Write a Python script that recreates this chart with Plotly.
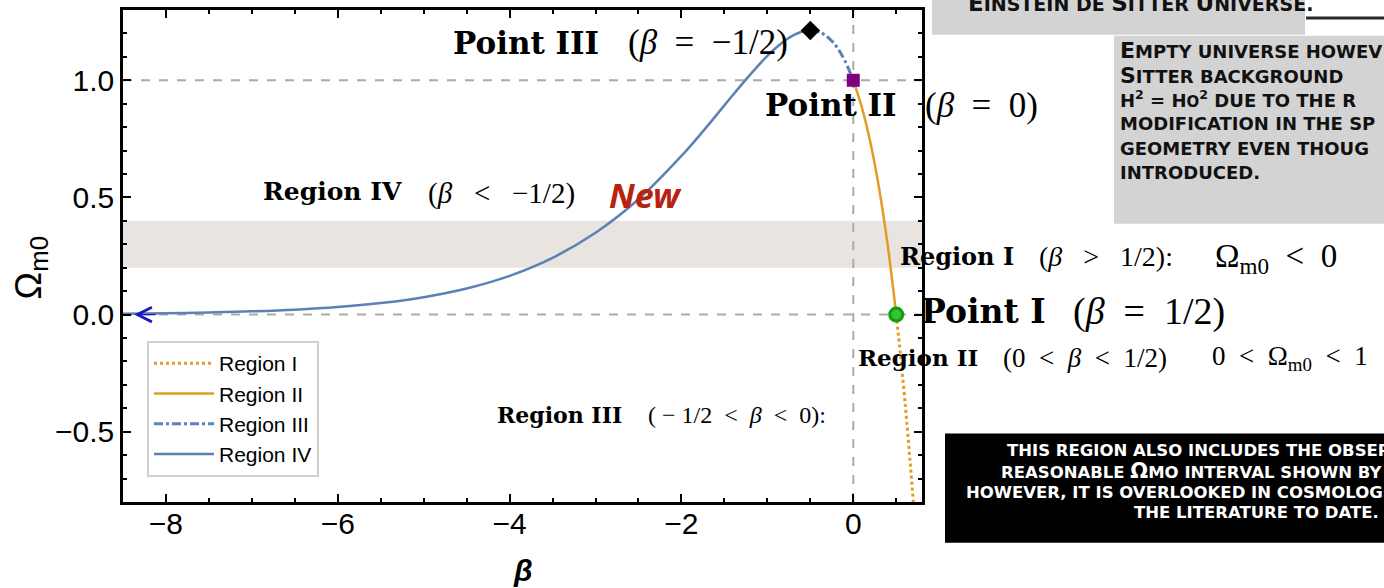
import plotly.graph_objects as go

# ---------------------------------------------------------------- data
beta_region_i = [0.5, 0.55, 0.6, 0.65, 0.7, 0.75]
omega_region_i = [0.0, -0.173, -0.364, -0.575, -0.806, -1.058]

beta_region_ii = [0.0, 0.1, 0.2, 0.3, 0.4, 0.5]
omega_region_ii = [1.0, 0.884, 0.733, 0.540, 0.298, 0.0]

beta_region_iii = [-0.5, -0.375, -0.25, -0.125, 0.0]
omega_region_iii = [1.213, 1.203, 1.168, 1.103, 1.0]

beta_region_iv = [-8.5, -8.0, -7.5, -7.0, -6.5, -6.0, -5.5, -5.0, -4.5, -4.0,
                  -3.5, -3.0, -2.5, -2.0, -1.75, -1.5, -1.25, -1.0, -0.875,
                  -0.75, -0.625, -0.5]
omega_region_iv = [0.004, 0.006, 0.009, 0.014, 0.021, 0.032, 0.049, 0.074,
                   0.111, 0.165, 0.242, 0.349, 0.492, 0.677, 0.782, 0.893,
                   1.003, 1.104, 1.146, 1.181, 1.204, 1.213]

point_names = ["Point I", "Point II", "Point III"]
point_beta = [0.5, 0.0, -0.5]
point_omega = [0.0, 1.0, 1.213]

band_omega = [0.2, 0.4]          # observationally preferred interval
ref_omega = [0.0, 1.0]           # dashed horizontal guides
ref_beta = [0.0]                 # dashed vertical guide
arrow_beta = [-8.37, -8.1]       # asymptote arrow (tip, tail)

x_ticks = [-8, -6, -4, -2, 0]
y_ticks = [-0.5, 0.0, 0.5, 1.0]

# ---------------------------------------------------------------- layout helpers
W, H = 1384, 588
ML, MR, MT, MB = 123, 462, 7, 86
PW, PH = W - ML - MR, H - MT - MB


def px(x):
    return (x - ML) / PW


def py(y):
    return (H - MB - y) / PH


BLUE = "#5E81B5"
ORANGE = "#E19C24"
SERIF_B = "DejaVu Serif"
SERIF = "Liberation Serif"
SANS = "Liberation Sans"
CAPS = "DejaVu Sans"

fig = go.Figure()

fig.add_trace(go.Scatter(x=beta_region_i, y=omega_region_i, mode="lines", name="Region I",
                         line=dict(color=ORANGE, width=3, dash="dot", shape="spline")))
fig.add_trace(go.Scatter(x=beta_region_ii, y=omega_region_ii, mode="lines", name="Region II",
                         line=dict(color=ORANGE, width=2.5, shape="spline")))
fig.add_trace(go.Scatter(x=beta_region_iii, y=omega_region_iii, mode="lines", name="Region III",
                         line=dict(color=BLUE, width=3, dash="dashdot", shape="spline")))
fig.add_trace(go.Scatter(x=beta_region_iv, y=omega_region_iv, mode="lines", name="Region IV",
                         line=dict(color=BLUE, width=2.5, shape="spline")))

fig.add_trace(go.Scatter(
    x=point_beta, y=point_omega, mode="markers", text=point_names, showlegend=False,
    marker=dict(symbol=["circle", "square", "diamond"],
                size=[13, 13, 15], opacity=1,
                color=["#3cbf3c", "#800080", "#000000"],
                line=dict(color=["#09a009", "#800080", "#000000"], width=[3, 0, 0])),
))

# shaded band and dashed guide lines
shapes = [
    dict(type="rect", xref="paper", x0=0, x1=1, yref="y", y0=band_omega[0], y1=band_omega[1],
         fillcolor="#e9e4df", line=dict(width=0), layer="below"),
]
for v in ref_omega:
    shapes.append(dict(type="line", xref="paper", x0=0, x1=1, yref="y", y0=v, y1=v,
                       line=dict(color="#ababab", width=2, dash="dash"), layer="below"))
for v in ref_beta:
    shapes.append(dict(type="line", xref="x", x0=v, x1=v, yref="paper", y0=0, y1=1,
                       line=dict(color="#ababab", width=2, dash="dash"), layer="below"))

# side panels
shapes += [
    dict(type="rect", xref="paper", yref="paper", x0=px(932), x1=px(1305), y0=py(32), y1=py(-5),
         fillcolor="#d3d3d3", line=dict(width=0)),
    dict(type="rect", xref="paper", yref="paper", x0=px(1114), x1=px(1400), y0=py(222), y1=py(33),
         fillcolor="#d3d3d3", line=dict(width=0)),
    dict(type="rect", xref="paper", yref="paper", x0=px(945), x1=px(1400), y0=py(543), y1=py(433),
         fillcolor="#000000", line=dict(width=0)),
    dict(type="line", xref="paper", yref="paper", x0=px(1306), x1=px(1384), y0=py(15), y1=py(15),
         line=dict(color="#2a2a2a", width=3)),
]


def caps(s, big, small):
    """Render text as small caps: capitals at `big`, lower case as capitals at `small`."""
    out, run, run_small = [], "", None
    for ch in s:
        is_small = ch.islower() or ch in " .,"
        if run_small is None or is_small == run_small:
            run += ch
        else:
            out.append((run, run_small))
            run = ch
        run_small = is_small
    if run:
        out.append((run, run_small))
    return "".join(
        '<span style="font-size:%dpx">%s</span>' % (small if sm else big, r.upper())
        for r, sm in out)


annotations = []


def label(text, x, y, family, size, color="#000000", anchor="left", **kw):
    annotations.append(dict(text=text, xref="paper", yref="paper", x=px(x), y=py(y),
                            xanchor=anchor, yanchor="middle", showarrow=False,
                            font=dict(family=family, size=size, color=color), **kw))


# curve annotations
label("<b>Point III</b>", 451, 40, SERIF_B, 31)
label("(<i>β</i>  =  −1/2)", 626, 40, SERIF, 35)
label("<b>Point II</b>", 763, 103, SERIF_B, 31)
label("(<i>β</i>  =  0)", 923, 103, SERIF, 35)
label("<b>Region IV</b>", 261, 190, SERIF_B, 25)
label("(<i>β</i>   &lt;   −1/2)", 426, 192, SERIF, 29)
label("<b>Region III</b>", 495, 414, SERIF_B, 22)
label("( − 1/2  &lt;  <i>β</i>  &lt;  0):", 646, 414, SERIF, 24)
label("<b>Region I</b>", 898, 255, SERIF_B, 24)
label("(<i>β</i>   &gt;   1/2):", 1037, 255, SERIF, 28)
label("Ω<sub>m0</sub>  &lt;  0", 1213, 257, SERIF, 33)
label("<b>Point I</b>", 919, 310, SERIF_B, 33)
label("(<i>β</i>  =  1/2)", 1071, 310, SERIF, 38)
label("<b>Region II</b>", 856, 357, SERIF_B, 23)
label("(0  &lt;  <i>β</i>  &lt;  1/2)", 1001, 357, SERIF, 27)
label("0  &lt;  Ω<sub>m0</sub>  &lt;  1", 1210, 357, SERIF, 27)
label("<b><i>New</i></b>", 607, 193, "Noto Sans", 34, color="#b8230f")

# side panel text
label("<b>" + caps("Einstein de Sitter Universe.", 23, 19) + "</b>", 966, 0, CAPS, 19,
      color="#111111")
panel_lines = [
    caps("Empty universe howev", 22, 18),
    caps("Sitter background", 22, 18),
    'H<sup>2</sup><span style="font-size:18px"> = </span>H<span style="font-size:15px">O</span><sup>2</sup>'
    + caps(" due to the r", 22, 18),
    caps("modification in the sp", 22, 18),
    caps("geometry even thoug", 22, 18),
    caps("introduced.", 22, 18),
]
for i, t in enumerate(panel_lines):
    label("<b>" + t + "</b>", 1118, 48 + i * 24.5, CAPS, 18, color="#111111")

black_lines = [
    ("this region also includes the obser", 1005, 450),
    ('reasonable <span style="font-size:21px">Ω</span>mo interval shown by', 999, 471),
    ("however, it is overlooked in cosmologi", 964, 492),
    ("the literature to date.", 1132, 513),
]
for t, x, y in black_lines:
    label("<b>" + t.upper() + "</b>", x, y, CAPS, 16.5, color="#ffffff")

# axis titles
label("Ω<sub>m0</sub>", 31, 266, SANS, 37, anchor="center", textangle=-90)
label("<b><i>β</i></b>", 523, 571, SANS, 30, anchor="center")

# asymptote arrow at the left end of Region IV
annotations.append(dict(x=arrow_beta[0], y=0, ax=arrow_beta[1], ay=0, xref="x", yref="y",
                        axref="x", ayref="y", text="", showarrow=True, arrowhead=5,
                        arrowsize=2.2, arrowwidth=1.3, arrowcolor="#1a1ac0"))

axis_common = dict(
    showline=True, linecolor="black", linewidth=2.5, mirror="ticks",
    ticks="inside", ticklen=8, tickwidth=2, tickcolor="black",
    showgrid=False, zeroline=False,
    tickfont=dict(family=SANS, size=30, color="black"),
)

fig.update_layout(
    width=W, height=H,
    margin=dict(l=ML, r=MR, t=MT, b=MB, pad=0),
    paper_bgcolor="white", plot_bgcolor="white",
    xaxis=dict(range=[-8.5, 0.8], tickvals=x_ticks, ticktext=["−8", "−6", "−4", "−2", "0"],
               minor=dict(dtick=0.5, ticks="inside", ticklen=4, tickwidth=1.5, tickcolor="black"),
               ticklabelstandoff=-7, **axis_common),
    yaxis=dict(range=[-0.8, 1.3], tickvals=y_ticks, ticktext=["−0.5", "0.0", "0.5", "1.0"],
               minor=dict(dtick=0.1, ticks="inside", ticklen=4, tickwidth=1.5, tickcolor="black"),
               ticklabelstandoff=0, **axis_common),
    legend=dict(x=px(147), y=py(340), xanchor="left", yanchor="top", itemwidth=60,
                bgcolor="white", bordercolor="#d0d0d0", borderwidth=2,
                font=dict(family=SANS, size=21, color="black")),
    shapes=shapes,
    annotations=annotations,
    showlegend=True,
)

fig.write_html("out.html")
